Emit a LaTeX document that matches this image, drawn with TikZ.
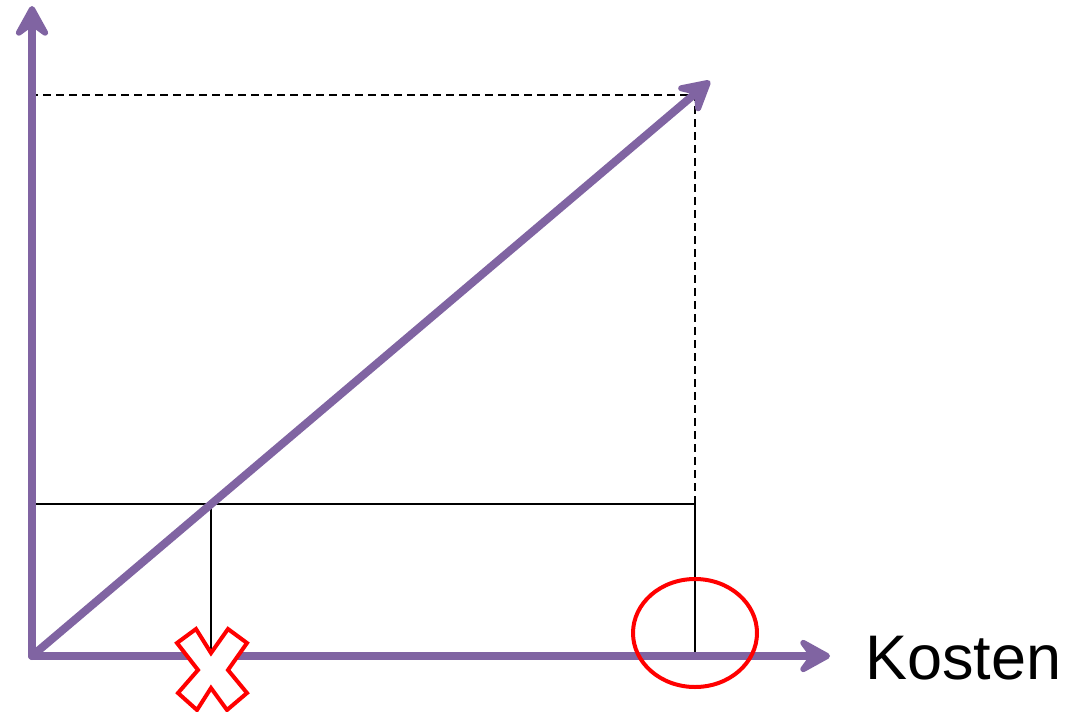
\documentclass[tikz,border=0pt]{standalone}
\usepackage{fontspec}
\setmainfont{Liberation Sans}
\usepackage{xcolor}
\usetikzlibrary{arrows.meta,positioning}
\definecolor{AxisPurple}{HTML}{8064A2}

\begin{document}
\begin{tikzpicture}[
  x=1pt, y=-1pt,
  axisline/.style={line width=8pt, AxisPurple, line cap=round, -{Stealth[length=40pt,width=44pt,inset=16pt,round]}},
  guide/.style={black, line width=1.3pt},
  dashguide/.style={guide, dash pattern=on 8pt off 5pt},
  redmark/.style={red, line width=4pt},
  label/.style={inner sep=0pt, font=\fontsize{63pt}{70pt}\selectfont}
]
\useasboundingbox (0,0) rectangle (1071,712);

% points of the plot
\coordinate (origin) at (32,656);
\coordinate (ytop) at (32,6);
\coordinate (xend) at (830,656);
\coordinate (peak) at (710,81);
\coordinate (yhigh) at (30,95);
\coordinate (corner) at (695,95);
\coordinate (ylow) at (30,504);
\coordinate (meet) at (211,504);
\coordinate (rightmid) at (695,504);
\coordinate (xlow) at (211,656);
\coordinate (xhigh) at (695,656);

% guide lines
\draw[dashguide] (yhigh) -- (corner) -- (rightmid);
\draw[guide] (ylow) -- (rightmid) -- (xhigh);
\draw[guide] (meet) -- (xlow);

% axes and line
\draw[axisline] (origin) -- (ytop);
\draw[axisline] (origin) -- (xend);
\draw[axisline] (origin) -- (peak);

\node[label, anchor=base west] (kosten) at (865,679) {Kosten};

% marks
\draw[redmark] (695,633) ellipse [x radius=62pt, y radius=54pt];
\draw[redmark, fill=white, line join=miter] (196,629) -- (211,653) -- (228,629) -- (247,643) -- (228,670) -- (247,693)
  -- (227,710) -- (211,688) -- (197,710) -- (178,693) -- (198,670) -- (177,643) -- cycle;
\end{tikzpicture}
\end{document}
